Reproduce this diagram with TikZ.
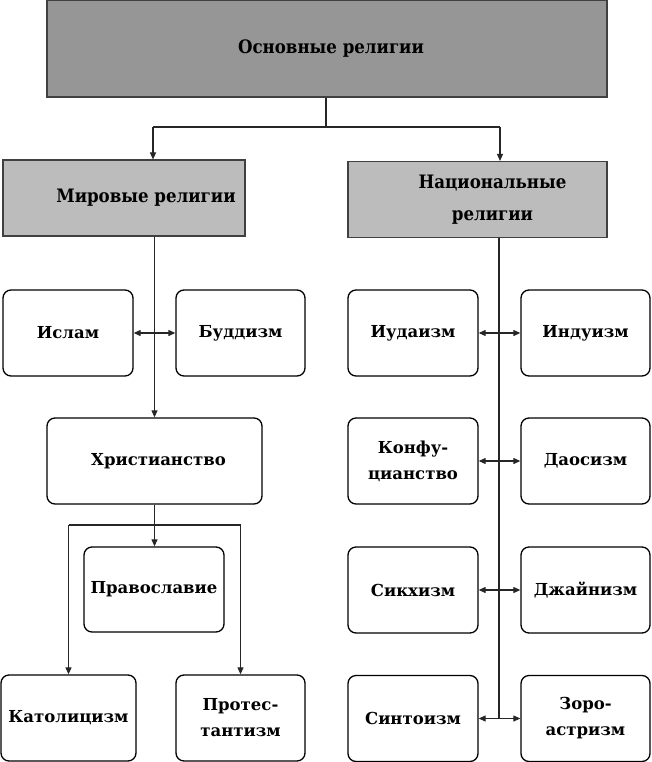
\documentclass[tikz,border=0pt]{standalone}
\usepackage{fontspec}
\setmainfont{DejaVu Serif}
\newfontfamily\headfont{DejaVu Serif Condensed}
\usetikzlibrary{arrows.meta}
\definecolor{topgray}{RGB}{150,150,150}
\definecolor{subgray}{RGB}{188,188,188}
\tikzset{
  rbox/.style={draw=black, line width=1.3pt, rounded corners=8pt, fill=white, align=center,
    font=\bfseries\fontsize{16.5}{26}\selectfont, inner sep=2pt, minimum height=86pt},
  hbox/.style={draw=black!75, line width=1.1pt, align=center, inner sep=2pt,
    font=\headfont\bfseries\fontsize{18.5}{32}\selectfont},
  conn/.style={line width=1.1pt, draw=black!85},
  arr/.style={conn, -{Triangle[length=7pt,width=6pt]}},
  darr/.style={conn, {Triangle[length=7pt,width=6pt]}-{Triangle[length=7pt,width=6pt]}}
}
\begin{document}
\begin{tikzpicture}[x=1pt,y=-1pt]
\useasboundingbox (0,0) rectangle (651,762);
% headers
\node[hbox, fill=topgray, minimum width=560pt, minimum height=97pt] (top) at (327,48.5) {\hspace*{8pt}Основные религии};
\node[hbox, fill=subgray, minimum width=242pt, minimum height=76pt] (mir) at (124,198) {\hspace*{44pt}Мировые религии};
\node[hbox, fill=subgray, minimum width=259pt, minimum height=76pt] (nat) at (477.5,199.5) {\hspace*{30pt}Национальные\\\hspace*{30pt}религии};
% world religions
\node[rbox, minimum width=130pt] (islam) at (68,333) {Ислам};
\node[rbox, minimum width=129pt] (budd) at (240.5,333) {Буддизм};
\node[rbox, minimum width=215pt] (hr) at (154.5,461) {\hspace*{8pt}Христианство};
\node[rbox, minimum width=140pt, minimum height=85pt] (prav) at (154,589.5) {Православие};
\node[rbox, minimum width=135pt] (kat) at (68.5,718) {Католицизм};
\node[rbox, minimum width=129pt] (prot) at (240.5,718) {Протес-\\тантизм};
% national religions
\node[rbox, minimum width=130pt] (iud) at (413,333) {Иудаизм};
\node[rbox, minimum width=129pt] (ind) at (585.5,333) {Индуизм};
\node[rbox, minimum width=130pt] (konf) at (413,461) {Конфу-\\цианство};
\node[rbox, minimum width=129pt] (dao) at (585.5,461) {Даосизм};
\node[rbox, minimum width=130pt] (sikh) at (413,590) {Сикхизм};
\node[rbox, minimum width=129pt] (jain) at (585.5,590) {Джайнизм};
\node[rbox, minimum width=130pt] (sint) at (413,718.5) {Синтоизм};
\node[rbox, minimum width=129pt] (zoro) at (585.5,718.5) {Зоро-\\астризм};
% connectors from top
\coordinate (j0) at (326,127);
\coordinate (jm) at (153,127);
\coordinate (jn) at (500,127);
\draw[conn] (top.south -| j0) -- (j0);
\draw[conn] (jm) -- (jn);
\draw[arr] (jm) -- (mir.north -| jm);
\draw[arr] (jn) -- (nat.north -| jn);
% world branch
\draw[arr] (mir.south -| hr.north) -- (hr.north);
\draw[darr] (islam.east) -- (budd.west);
\draw[arr] (hr.south) -- (prav.north -| hr.south);
\coordinate (cl) at (68.5,525);
\coordinate (cr) at (240.5,525);
\draw[conn] (cl) -- (cr);
\draw[arr] (cl) -- (kat.north);
\draw[arr] (cr) -- (prot.north);
% national branch
\coordinate (nb) at (499,718.5);
\draw[conn] (nat.south -| nb) -- (nb);
\draw[darr] (iud.east) -- (ind.west);
\draw[darr] (konf.east) -- (dao.west);
\draw[darr] (sikh.east) -- (jain.west);
\draw[darr] (sint.east) -- (zoro.west);
\end{tikzpicture}
\end{document}
